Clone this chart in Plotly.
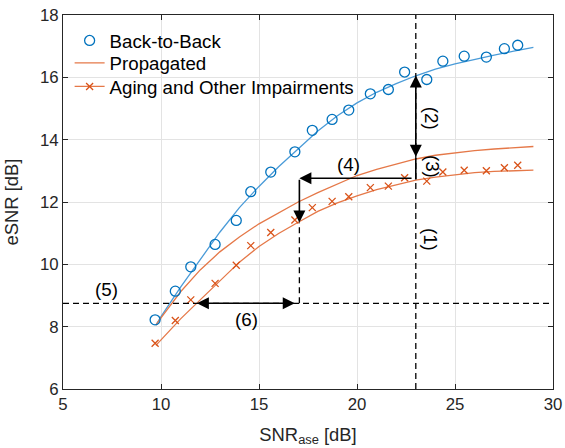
import plotly.graph_objects as go

# ---------------- data ----------------
snr_meas = [9.70, 10.73, 11.52, 12.76, 13.84, 14.58, 15.60, 16.83, 17.72, 18.73,
            19.58, 20.68, 21.60, 22.43, 23.56, 24.38, 25.47, 26.60, 27.52, 28.20]
b2b_meas = [8.22, 9.14, 9.92, 10.64, 11.41, 12.33, 12.96, 13.61, 14.30, 14.65,
            14.95, 15.47, 15.61, 16.17, 15.93, 16.52, 16.68, 16.65, 16.92, 17.03]
aging_meas = [7.47, 8.20, 8.86, 9.39, 9.97, 10.60, 11.02, 11.42, 11.82, 12.02,
              12.17, 12.46, 12.51, 12.78, 12.67, 12.96, 13.02, 13.00, 13.10, 13.18]

snr_fit = [9.74, 10, 11, 12, 13, 14, 15, 16, 17, 18, 19, 20, 21, 22, 23, 24, 25, 26, 27, 28, 29]
b2b_fit = [8.05, 8.32, 9.27, 10.17, 11.03, 11.82, 12.50, 13.13, 13.72, 14.28, 14.77,
           15.18, 15.52, 15.80, 16.05, 16.26, 16.43, 16.58, 16.71, 16.84, 16.96]
prop_fit = [8.05, 8.28, 9.12, 9.82, 10.40, 10.88, 11.30, 11.66, 12.00, 12.30, 12.58,
            12.85, 13.05, 13.22, 13.38, 13.50, 13.58, 13.65, 13.70, 13.75, 13.78]
aging_fit = [7.40, 7.58, 8.25, 8.86, 9.47, 10.07, 10.57, 10.99, 11.35, 11.70, 11.97,
             12.20, 12.40, 12.56, 12.70, 12.80, 12.88, 12.94, 12.98, 13.00, 13.02]

x_ticks = [5, 10, 15, 20, 25, 30]
y_ticks = [6, 8, 10, 12, 14, 16, 18]

# annotation geometry (data units)
X_REF = 23.0          # vertical dashed line
Y_REF = 8.75          # horizontal dashed line
Y_B2B_AT_REF = 16.06
Y_PROP_AT_REF = 13.40
Y_AGING_AT_REF = 12.72
Y_H_ARROW = 12.76
X_LEFT = 17.06
Y_AGING_AT_LEFT = 11.34
X_AGING_AT_YREF = 11.83
X_END6 = 16.90

labels = [("(1)", 23.75, 10.80, 90), ("(2)", 23.78, 14.70, 90), ("(3)", 23.82, 13.13, 90),
          ("(4)", 19.57, 13.20, 0), ("(5)", 7.24, 9.18, 0), ("(6)", 14.35, 8.22, 0)]

BLUE = "#0072BD"
BLUE_LINE = "#4A9BD8"
ORANGE = "#D95319"
ORANGE_LINE = "#E57848"
FONT = "Liberation Sans, Arial, Helvetica, sans-serif"
TXT = "#262626"

fig = go.Figure()

# fitted curves (not in legend)
fig.add_trace(go.Scatter(x=snr_fit, y=b2b_fit, mode="lines", showlegend=False,
                         line=dict(color=BLUE_LINE, width=1.3), hoverinfo="skip"))
fig.add_trace(go.Scatter(x=snr_fit, y=prop_fit, mode="lines", showlegend=False,
                         line=dict(color=ORANGE_LINE, width=1.3), hoverinfo="skip"))
fig.add_trace(go.Scatter(x=snr_fit, y=aging_fit, mode="lines", showlegend=False,
                         line=dict(color=ORANGE_LINE, width=1.3), hoverinfo="skip"))
# measured
fig.add_trace(go.Scatter(x=snr_meas, y=b2b_meas, mode="markers", name="Back-to-Back",
                         legend="legend",
                         marker=dict(symbol="circle-open", size=10, color=BLUE,
                                     line=dict(width=1.3, color=BLUE))))
fig.add_trace(go.Scatter(x=snr_meas, y=aging_meas, mode="markers", showlegend=False,
                         marker=dict(symbol="x-thin-open", size=7, color=ORANGE,
                                     line=dict(width=1.3, color=ORANGE))))
# legend-only entries
fig.add_trace(go.Scatter(x=[None], y=[None], mode="lines", name="Propagated",
                         legend="legend2",
                         line=dict(color=ORANGE_LINE, width=1.3)))
fig.add_trace(go.Scatter(x=[None], y=[None], mode="lines+markers", name="Aging and Other Impairments",
                         legend="legend3",
                         line=dict(color=ORANGE_LINE, width=1.3),
                         marker=dict(symbol="x-thin-open", size=7, color=ORANGE,
                                     line=dict(width=1.3, color=ORANGE))))

shapes = []
# white legend background (hides the grid behind the legend)
shapes.append(dict(type="rect", xref="paper", yref="paper", x0=0.011, x1=0.612, y0=0.777, y1=0.961,
                   fillcolor="white", line=dict(width=0), layer="between"))
dash = "6px,4px"
shapes.append(dict(type="line", xref="x", yref="y", x0=X_REF, x1=X_REF, y0=6, y1=18,
                   line=dict(color="black", width=1.3, dash=dash)))
shapes.append(dict(type="line", xref="x", yref="y", x0=5, x1=30, y0=Y_REF, y1=Y_REF,
                   line=dict(color="black", width=1.3, dash=dash)))
shapes.append(dict(type="line", xref="x", yref="y", x0=X_LEFT, x1=X_LEFT, y0=Y_REF, y1=Y_AGING_AT_LEFT,
                   line=dict(color="black", width=1.3, dash=dash)))
shapes.append(dict(type="line", xref="x", yref="y", x0=X_REF, x1=X_REF, y0=Y_AGING_AT_REF, y1=Y_PROP_AT_REF,
                   line=dict(color="black", width=1.6)))

annotations = []

def arrow(x, y, ax, ay, side="end"):
    annotations.append(dict(x=x, y=y, ax=ax, ay=ay, xref="x", yref="y", axref="x", ayref="y",
                            showarrow=True, text="", arrowhead=2, startarrowhead=2,
                            arrowsize=1.5, startarrowsize=1.5, arrowwidth=1.6,
                            arrowcolor="black", arrowside=side, standoff=0, startstandoff=0))

arrow(X_REF, Y_B2B_AT_REF, X_REF, Y_PROP_AT_REF, "end+start")
arrow(X_LEFT, Y_H_ARROW, X_REF - 0.14, Y_H_ARROW)
arrow(X_LEFT, Y_AGING_AT_LEFT, X_LEFT, Y_H_ARROW)
arrow(X_AGING_AT_YREF, Y_REF, X_END6, Y_REF, "end+start")

for t, x, y, ang in labels:
    annotations.append(dict(x=x, y=y, xref="x", yref="y", text=t, showarrow=False,
                            textangle=ang, font=dict(size=18.8, color="black", family=FONT)))

axis_common = dict(showline=True, linecolor=TXT, linewidth=1, mirror="ticks",
                   ticks="inside", ticklen=5, tickcolor=TXT, showgrid=True,
                   gridcolor="#E3E3E3", gridwidth=1, zeroline=False, automargin=False,
                   tickfont=dict(size=16.8, color=TXT, family=FONT))

def leg(y):
    return dict(x=0.0135, y=y, xanchor="left", yanchor="middle",
                bgcolor="rgba(255,255,255,0)", borderwidth=0,
                font=dict(size=18.7, color="black", family=FONT),
                itemwidth=30, tracegroupgap=0)

fig.update_layout(
    width=565, height=448,
    margin=dict(l=63, r=12, t=15, b=59),
    paper_bgcolor="white", plot_bgcolor="white",
    font=dict(family=FONT, color=TXT, size=16),
    shapes=shapes, annotations=annotations,
    legend=leg(0.931), legend2=leg(0.871), legend3=leg(0.808),
    xaxis=dict(range=[5, 30], tickvals=x_ticks, ticktext=[str(v) for v in x_ticks],
               title=dict(text="SNR<sub>ase</sub> [dB]", font=dict(size=18.4, color=TXT), standoff=14),
               **axis_common),
    yaxis=dict(range=[6, 18], tickvals=y_ticks, ticktext=[str(v) for v in y_ticks],
               title=dict(text="eSNR [dB]", font=dict(size=18.4, color=TXT), standoff=16),
               **axis_common),
)

fig.write_html("out.html")
